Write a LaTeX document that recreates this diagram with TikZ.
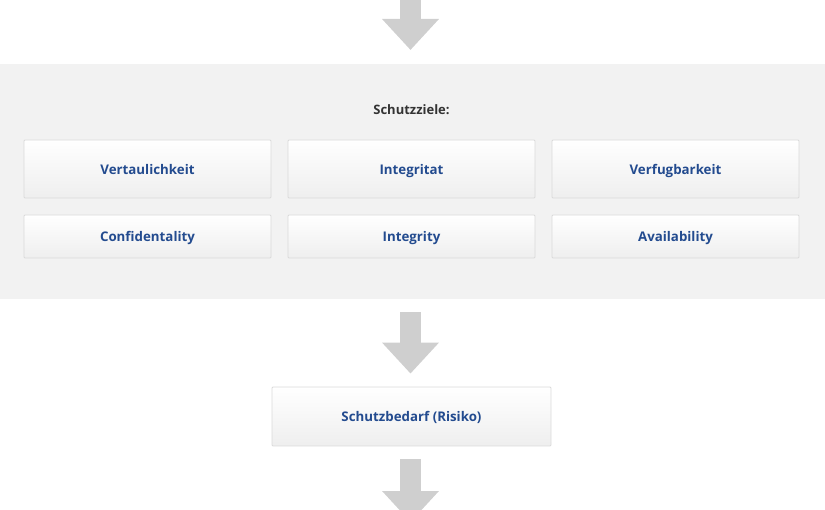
\documentclass[tikz,border=0pt]{standalone}
\usepackage{fontspec}
\setmainfont{Open Sans}
\usetikzlibrary{arrows.meta}
\definecolor{bandgray}{HTML}{F2F2F2}
\definecolor{arrowgray}{HTML}{CFCFCF}
\definecolor{boxborder}{HTML}{DADADA}
\definecolor{boxtext}{HTML}{234B8F}
\definecolor{titletext}{HTML}{333333}
\tikzset{
  x=1pt, y=-1pt,
  goalbox/.style={draw=boxborder, line width=0.8pt, top color=white, bottom color=boxborder!45,
    rounded corners=1pt, inner sep=0pt, text depth=0pt, font=\bfseries\fontsize{13.3}{15}\selectfont, text=boxtext},
  blockarrow/.style={draw=arrowgray, line width=21pt, -{Triangle[length=31pt,width=55pt]}, color=arrowgray},
}
\begin{document}
\begin{tikzpicture}
\useasboundingbox (0,0) rectangle (825,510);
\clip (0,0) rectangle (825,510);
% band
\node[fill=bandgray, draw=none, minimum width=825pt, minimum height=235pt, inner sep=0pt, anchor=north west] (band) at (0,64) {};
\node[font=\bfseries\fontsize{13}{15}\selectfont, text=titletext, text depth=0pt] (title) at (411.5,110) {Schutzziele:};
% row 1
\node[goalbox, minimum width=247pt, minimum height=58pt] (v) at (147.5,169) {Vertaulichkeit};
\node[goalbox, minimum width=247pt, minimum height=58pt] (i) at (411.5,169) {Integritat};
\node[goalbox, minimum width=247pt, minimum height=58pt] (a) at (675.5,169) {Verfugbarkeit};
% row 2
\node[goalbox, minimum width=247pt, minimum height=43pt] (ve) at (147.5,236.5) {Confidentality};
\node[goalbox, minimum width=247pt, minimum height=43pt] (ie) at (411.5,236.5) {Integrity};
\node[goalbox, minimum width=247pt, minimum height=43pt] (ae) at (675.5,236.5) {Availability};
% Schutzbedarf
\node[goalbox, minimum width=279pt, minimum height=59pt] (sb) at (411.5,416.5) {Schutzbedarf (Risiko)};
% arrows
\coordinate (topstart) at (410.5,-1);
\coordinate (botend) at (410.5,522);
\draw[blockarrow, shorten >=14pt] (topstart) -- (topstart |- band.north);
\draw[blockarrow, shorten <=13pt, shorten >=13pt] (topstart |- band.south) -- (topstart |- sb.north);
\draw[blockarrow, shorten <=13pt] (topstart |- sb.south) -- (botend);
\end{tikzpicture}
\end{document}
